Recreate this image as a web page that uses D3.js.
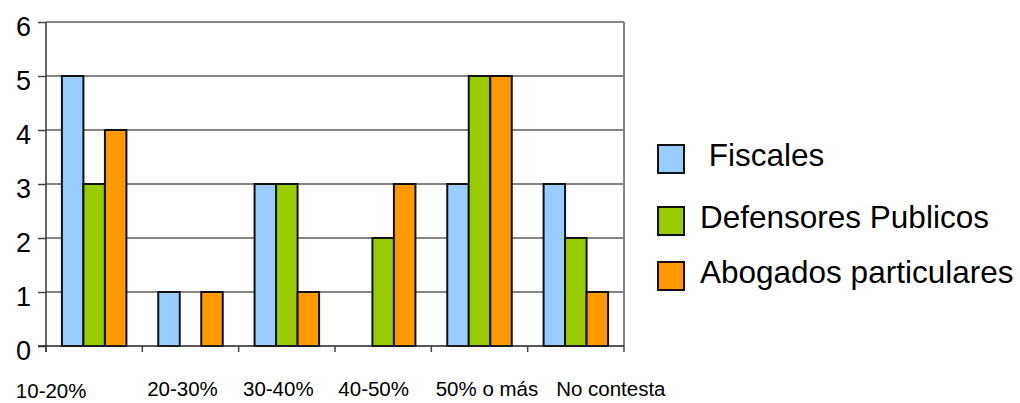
<!DOCTYPE html>
<html><head><meta charset="utf-8">
<script src="https://cdn.jsdelivr.net/npm/d3@7"></script>
<style>
html,body{margin:0;padding:0;background:#fff;}
svg{display:block;font-family:Arial,"Liberation Sans",sans-serif;}
</style></head>
<body>
<svg id="c" width="1020" height="403"></svg>
<script>
const categories = ["10-20%","20-30%","30-40%","40-50%","50% o más","No contesta"];
const seriesNames = [" Fiscales","Defensores Publicos","Abogados particulares"];
const fiscales = [5,1,3,0,3,3];
const defensores = [3,0,3,2,5,2];
const abogados = [4,1,1,3,5,1];
const yTicks = [0,1,2,3,4,5,6];
const colors = ["#99CCFF","#99CC00","#FF9900"];
// label layout tweaks (relative to band centre) to mirror the original placement
const labelDx = [-43,-8,-8.5,-9.5,7.5,35];
const labelDy = [2,0,0,0,0,0];

const series = [fiscales, defensores, abogados];
const svg = d3.select("#c");
const L = 46, R = 624, T = 22, B = 346;

const x0 = d3.scaleBand().domain(categories).range([L, R]).padding(0);
const x1 = d3.scaleBand().domain(d3.range(3)).range([0, x0.bandwidth()]).paddingInner(0).paddingOuter(0.74);
const y = d3.scaleLinear().domain([0, 6]).range([B, T]);

// gridlines
svg.append("g").selectAll("line").data(yTicks.filter(d => d > 0)).join("line")
  .attr("x1", L).attr("x2", R).attr("y1", d => y(d)).attr("y2", d => y(d))
  .attr("stroke", "#858585").attr("stroke-width", 2);
// right border
svg.append("line").attr("x1", R).attr("x2", R).attr("y1", T).attr("y2", B)
  .attr("stroke", "#858585").attr("stroke-width", 2);

// bars
const g = svg.append("g");
categories.forEach((c, i) => {
  series.forEach((s, k) => {
    const v = s[i];
    if (v <= 0) return;
    g.append("rect")
      .attr("x", x0(c) + x1(k))
      .attr("y", y(v))
      .attr("width", x1.bandwidth())
      .attr("height", y(0) - y(v))
      .attr("fill", colors[k])
      .attr("stroke", "#111").attr("stroke-width", 2);
  });
});

// y axis
const yAxis = d3.axisLeft(y).tickValues(yTicks).tickSize(8).tickFormat(d3.format("d"));
const ya = svg.append("g").attr("transform", `translate(${L},0)`).call(yAxis);
ya.select(".domain").attr("stroke", "#333").attr("stroke-width", 1.5).attr("d", `M0,${T}V${B + 6}`);
ya.selectAll(".tick line").attr("stroke", "#444").attr("stroke-width", 1.5);
ya.selectAll(".tick text").attr("font-size", 27).attr("font-family", "Arial, 'Liberation Sans', sans-serif")
  .attr("fill", "#000").attr("x", -15).attr("dy", "0.5em");

// x axis
const bounds = categories.map(c => x0(c)).concat([R]);
svg.append("line").attr("x1", L - 8).attr("x2", R).attr("y1", B).attr("y2", B)
  .attr("stroke", "#222").attr("stroke-width", 1.5);
svg.append("g").selectAll("line").data(bounds).join("line")
  .attr("x1", d => d).attr("x2", d => d).attr("y1", B).attr("y2", B + 6)
  .attr("stroke", "#444").attr("stroke-width", 1.5);
svg.append("g").selectAll("text").data(categories).join("text")
  .attr("x", (d, i) => x0(d) + x0.bandwidth() / 2 + labelDx[i])
  .attr("y", (d, i) => 396 + labelDy[i])
  .attr("text-anchor", "middle").attr("font-size", 20.5).attr("fill", "#000")
  .text(d => d);

// legend
const legY = [159, 221, 276];
const lg = svg.append("g");
seriesNames.forEach((n, k) => {
  lg.append("rect").attr("x", 658).attr("y", legY[k] - 14).attr("width", 26).attr("height", 28)
    .attr("fill", colors[k]).attr("stroke", "#111").attr("stroke-width", 2);
  lg.append("text").attr("x", 700).attr("y", legY[k] + 7).attr("font-size", 31.5)
    .style("white-space", "pre").attr("fill", "#000").text(n);
});
</script>
</body></html>
